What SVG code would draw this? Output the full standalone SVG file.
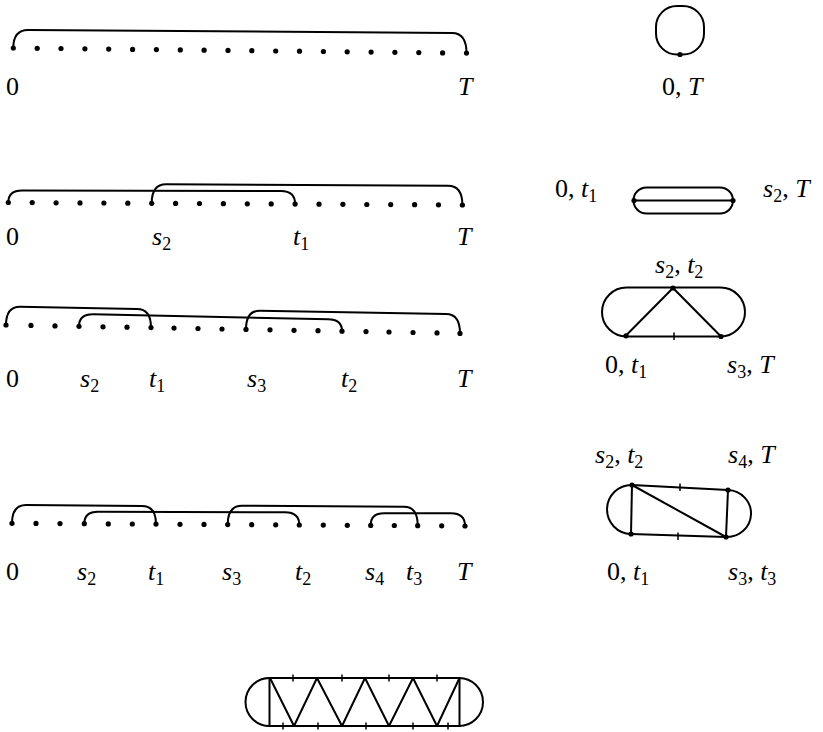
<svg xmlns="http://www.w3.org/2000/svg" width="823" height="732" viewBox="0 0 823 732">
<style>
.bg{fill:#fff}
.d{fill:#000}
.ln{fill:none;stroke:#000;stroke-width:2;stroke-linecap:round;stroke-linejoin:round}
.tk{stroke:#000;stroke-width:1.5}
</style>
<rect class="bg" x="0" y="0" width="823" height="732"/>

<g id="connectors">
  <path class="ln" d="M13.3,48 Q13.3,30 28,30 L452,33 Q466.5,33 466.5,53.1"/>
  <path class="ln" d="M8.3,202.5 Q8.3,190.5 22,190.5 L281,191 Q295.1,191 295.1,204.1"/>
  <path class="ln" d="M151.7,203.3 Q151.7,184.3 166,184.3 L448,185.7 Q462.4,185.7 462.4,205"/>
  <path class="ln" d="M6,325 Q6,306.7 20,306.7 L137,309 Q151,309 151,327.6"/>
  <path class="ln" d="M79,326.3 Q79,314.3 93,314.3 L328,319.3 Q342,319.3 342,331.2"/>
  <path class="ln" d="M246,329.4 Q246,310.7 260,310.7 L446,314 Q460,314 460,333.4"/>
  <path class="ln" d="M12,523.3 Q12,505 26,505 L142,506 Q156,506 156,524.1"/>
  <path class="ln" d="M84.3,523.7 Q84.3,511.7 98,511.7 L285,512.3 Q299.3,512.3 299.3,525"/>
  <path class="ln" d="M227.7,524.6 Q227.7,505.7 242,505.7 L404,506.7 Q417.7,506.7 417.7,525.7"/>
  <path class="ln" d="M370.7,525.4 Q370.7,513.3 384,513.3 L451,513.3 Q465,513.3 465,526"/>
</g>

<g font-family="Liberation Serif, Times New Roman, serif" font-size="26" fill="#000">
<g id="row1">
  <circle class="d" cx="13.3" cy="48" r="2.6"/><circle class="d" cx="37.2" cy="48.3" r="2.6"/><circle class="d" cx="61" cy="48.5" r="2.6"/><circle class="d" cx="84.9" cy="48.8" r="2.6"/><circle class="d" cx="108.7" cy="49.1" r="2.6"/><circle class="d" cx="132.6" cy="49.4" r="2.6"/><circle class="d" cx="156.4" cy="49.6" r="2.6"/><circle class="d" cx="180.3" cy="49.9" r="2.6"/><circle class="d" cx="204.1" cy="50.2" r="2.6"/><circle class="d" cx="228" cy="50.4" r="2.6"/><circle class="d" cx="251.8" cy="50.7" r="2.6"/><circle class="d" cx="275.7" cy="51" r="2.6"/><circle class="d" cx="299.5" cy="51.2" r="2.6"/><circle class="d" cx="323.4" cy="51.5" r="2.6"/><circle class="d" cx="347.2" cy="51.8" r="2.6"/><circle class="d" cx="371.1" cy="52.1" r="2.6"/><circle class="d" cx="394.9" cy="52.3" r="2.6"/><circle class="d" cx="418.8" cy="52.6" r="2.6"/><circle class="d" cx="442.6" cy="52.9" r="2.6"/><circle class="d" cx="466.5" cy="53.1" r="2.6"/>
  <text x="6" y="95">0</text>
  <text x="458" y="95" font-style="italic">T</text>
</g>

<g id="row2">
  <circle class="d" cx="8.3" cy="202.5" r="2.6"/><circle class="d" cx="32.2" cy="202.6" r="2.6"/><circle class="d" cx="56.1" cy="202.8" r="2.6"/><circle class="d" cx="80" cy="202.9" r="2.6"/><circle class="d" cx="103.9" cy="203" r="2.6"/><circle class="d" cx="127.8" cy="203.2" r="2.6"/><circle class="d" cx="151.7" cy="203.3" r="2.6"/><circle class="d" cx="175.6" cy="203.4" r="2.6"/><circle class="d" cx="199.5" cy="203.5" r="2.6"/><circle class="d" cx="223.4" cy="203.7" r="2.6"/><circle class="d" cx="247.3" cy="203.8" r="2.6"/><circle class="d" cx="271.2" cy="203.9" r="2.6"/><circle class="d" cx="295.1" cy="204.1" r="2.6"/><circle class="d" cx="319" cy="204.2" r="2.6"/><circle class="d" cx="342.9" cy="204.3" r="2.6"/><circle class="d" cx="366.8" cy="204.5" r="2.6"/><circle class="d" cx="390.7" cy="204.6" r="2.6"/><circle class="d" cx="414.6" cy="204.7" r="2.6"/><circle class="d" cx="438.5" cy="204.8" r="2.6"/><circle class="d" cx="462.4" cy="205" r="2.6"/>
  <text x="6" y="245">0</text>
  <text x="152" y="245"><tspan font-style="italic">s</tspan><tspan font-size="18" dy="5">2</tspan></text>
  <text x="293" y="245"><tspan font-style="italic">t</tspan><tspan font-size="18" dy="5">1</tspan></text>
  <text x="457" y="245" font-style="italic">T</text>
</g>

<g id="row3">
  <circle class="d" cx="6" cy="325" r="2.6"/><circle class="d" cx="31" cy="325.4" r="2.6"/><circle class="d" cx="55" cy="325.9" r="2.6"/><circle class="d" cx="79" cy="326.3" r="2.6"/><circle class="d" cx="103" cy="326.8" r="2.6"/><circle class="d" cx="127" cy="327.2" r="2.6"/><circle class="d" cx="151" cy="327.6" r="2.6"/><circle class="d" cx="174" cy="328.1" r="2.6"/><circle class="d" cx="198" cy="328.5" r="2.6"/><circle class="d" cx="222" cy="329" r="2.6"/><circle class="d" cx="246" cy="329.4" r="2.6"/><circle class="d" cx="270" cy="329.8" r="2.6"/><circle class="d" cx="294" cy="330.3" r="2.6"/><circle class="d" cx="318" cy="330.7" r="2.6"/><circle class="d" cx="342" cy="331.2" r="2.6"/><circle class="d" cx="366" cy="331.6" r="2.6"/><circle class="d" cx="389" cy="332" r="2.6"/><circle class="d" cx="413" cy="332.5" r="2.6"/><circle class="d" cx="437" cy="332.9" r="2.6"/><circle class="d" cx="460" cy="333.4" r="2.6"/>
  <text x="6" y="387">0</text>
  <text x="80" y="387"><tspan font-style="italic">s</tspan><tspan font-size="18" dy="5">2</tspan></text>
  <text x="149" y="387"><tspan font-style="italic">t</tspan><tspan font-size="18" dy="5">1</tspan></text>
  <text x="247" y="387"><tspan font-style="italic">s</tspan><tspan font-size="18" dy="5">3</tspan></text>
  <text x="341" y="387"><tspan font-style="italic">t</tspan><tspan font-size="18" dy="5">2</tspan></text>
  <text x="457" y="387" font-style="italic">T</text>
</g>

<g id="row4">
  <circle class="d" cx="12" cy="523.3" r="2.6"/><circle class="d" cx="36" cy="523.4" r="2.6"/><circle class="d" cx="60" cy="523.6" r="2.6"/><circle class="d" cx="84.3" cy="523.7" r="2.6"/><circle class="d" cx="108.3" cy="523.9" r="2.6"/><circle class="d" cx="132.3" cy="524" r="2.6"/><circle class="d" cx="156" cy="524.1" r="2.6"/><circle class="d" cx="180" cy="524.3" r="2.6"/><circle class="d" cx="204" cy="524.4" r="2.6"/><circle class="d" cx="227.7" cy="524.6" r="2.6"/><circle class="d" cx="251.7" cy="524.7" r="2.6"/><circle class="d" cx="275.7" cy="524.8" r="2.6"/><circle class="d" cx="299.3" cy="525" r="2.6"/><circle class="d" cx="323.3" cy="525.1" r="2.6"/><circle class="d" cx="347.3" cy="525.3" r="2.6"/><circle class="d" cx="370.7" cy="525.4" r="2.6"/><circle class="d" cx="394.3" cy="525.5" r="2.6"/><circle class="d" cx="417.7" cy="525.7" r="2.6"/><circle class="d" cx="441.7" cy="525.8" r="2.6"/><circle class="d" cx="465" cy="526" r="2.6"/>
  <text x="6" y="580">0</text>
  <text x="77" y="580"><tspan font-style="italic">s</tspan><tspan font-size="18" dy="5">2</tspan></text>
  <text x="148" y="580"><tspan font-style="italic">t</tspan><tspan font-size="18" dy="5">1</tspan></text>
  <text x="222" y="580"><tspan font-style="italic">s</tspan><tspan font-size="18" dy="5">3</tspan></text>
  <text x="295" y="580"><tspan font-style="italic">t</tspan><tspan font-size="18" dy="5">2</tspan></text>
  <text x="365" y="580"><tspan font-style="italic">s</tspan><tspan font-size="18" dy="5">4</tspan></text>
  <text x="406" y="580"><tspan font-style="italic">t</tspan><tspan font-size="18" dy="5">3</tspan></text>
  <text x="457" y="580" font-style="italic">T</text>
</g>

<g id="graph1">
  <rect class="ln" x="656" y="6" width="48" height="48.5" rx="21" ry="21"/>
  <circle class="d" cx="680" cy="54.5" r="2.6"/>
  <text x="662" y="95">0, <tspan font-style="italic">T</tspan></text>
</g>

<g id="graph2">
  <rect class="ln" x="633.5" y="187.5" width="99.5" height="26" rx="13" ry="13"/>
  <line class="ln" x1="634" y1="200.5" x2="733" y2="200.5"/>
  <circle class="d" cx="634" cy="200.5" r="2.6"/><circle class="d" cx="733" cy="200.5" r="2.6"/>
  <text x="555" y="197">0, <tspan font-style="italic">t</tspan><tspan font-size="18" dy="5">1</tspan></text>
  <text x="763" y="197"><tspan font-style="italic">s</tspan><tspan font-size="18" dy="5">2</tspan><tspan dy="-5">, </tspan><tspan font-style="italic">T</tspan></text>
</g>

<g id="graph3">
  <rect class="ln" x="602" y="287.5" width="143" height="49" rx="24.5" ry="24.5"/>
  <polyline class="ln" points="626,335.5 673,288 721,336.5"/>
  <line class="tk" x1="674" y1="332.5" x2="674" y2="340"/>
  <circle class="d" cx="626" cy="335.8" r="2.6"/><circle class="d" cx="673" cy="288" r="2.6"/><circle class="d" cx="721" cy="336.5" r="2.6"/>
  <text x="655" y="273"><tspan font-style="italic">s</tspan><tspan font-size="18" dy="5">2</tspan><tspan dy="-5">, </tspan><tspan font-style="italic">t</tspan><tspan font-size="18" dy="5">2</tspan></text>
  <text x="605" y="373">0, <tspan font-style="italic">t</tspan><tspan font-size="18" dy="5">1</tspan></text>
  <text x="727" y="373"><tspan font-style="italic">s</tspan><tspan font-size="18" dy="5">3</tspan><tspan dy="-5">, </tspan><tspan font-style="italic">T</tspan></text>
</g>

<g id="graph4">
  <path class="ln" d="M632,485 L728,490 A24,23.5 0 0 1 726,537 L631,534 A24.5,24.5 0 0 1 632,485 Z"/>
  <line class="ln" x1="632" y1="485" x2="631" y2="534"/>
  <line class="ln" x1="728" y1="490" x2="726" y2="537"/>
  <line class="ln" x1="632" y1="485" x2="726" y2="537"/>
  <line class="tk" x1="680" y1="483.5" x2="680" y2="491"/>
  <line class="tk" x1="678" y1="532.5" x2="678" y2="540"/>
  <circle class="d" cx="632" cy="485" r="2.6"/><circle class="d" cx="728" cy="490" r="2.6"/><circle class="d" cx="631" cy="534" r="2.6"/><circle class="d" cx="726" cy="537" r="2.6"/>
  <text x="595" y="463"><tspan font-style="italic">s</tspan><tspan font-size="18" dy="5">2</tspan><tspan dy="-5">, </tspan><tspan font-style="italic">t</tspan><tspan font-size="18" dy="5">2</tspan></text>
  <text x="728" y="463"><tspan font-style="italic">s</tspan><tspan font-size="18" dy="5">4</tspan><tspan dy="-5">, </tspan><tspan font-style="italic">T</tspan></text>
  <text x="607" y="580">0, <tspan font-style="italic">t</tspan><tspan font-size="18" dy="5">1</tspan></text>
  <text x="728" y="580"><tspan font-style="italic">s</tspan><tspan font-size="18" dy="5">3</tspan><tspan dy="-5">, </tspan><tspan font-style="italic">t</tspan><tspan font-size="18" dy="5">3</tspan></text>
</g>

<g id="graph5">
  <rect class="ln" x="245.5" y="678" width="237.5" height="48" rx="24" ry="24"/>
  <line class="ln" x1="269.5" y1="678" x2="269.5" y2="726"/>
  <line class="ln" x1="459.5" y1="678" x2="459.5" y2="726"/>
  <polyline class="ln" points="270,678 294,726 317,678 342,726 365,678 389,726 413,678 437,726 459.5,678"/>
  <line class="tk" x1="293" y1="674.5" x2="293" y2="681.5"/>
  <line class="tk" x1="342" y1="674.5" x2="342" y2="681.5"/>
  <line class="tk" x1="389" y1="674.5" x2="389" y2="681.5"/>
  <line class="tk" x1="437" y1="674.5" x2="437" y2="681.5"/>
  <line class="tk" x1="283" y1="722.5" x2="283" y2="729.5"/>
  <line class="tk" x1="318" y1="722.5" x2="318" y2="729.5"/>
  <line class="tk" x1="366" y1="722.5" x2="366" y2="729.5"/>
  <line class="tk" x1="413" y1="722.5" x2="413" y2="729.5"/>
  <line class="tk" x1="448" y1="722.5" x2="448" y2="729.5"/>
</g>
</g>
</svg>
